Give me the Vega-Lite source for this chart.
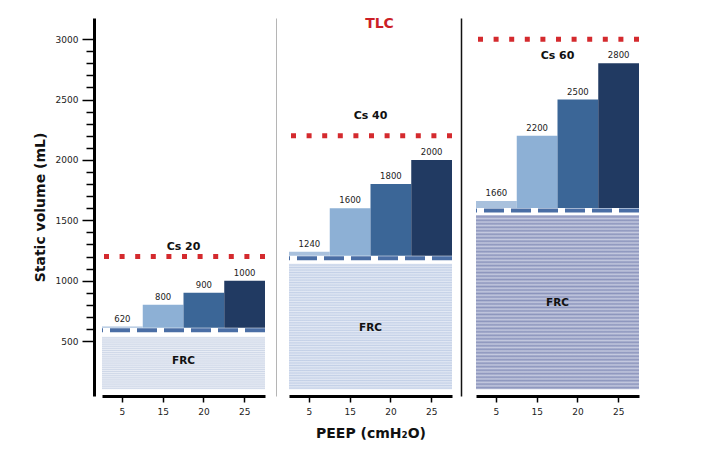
{
  "$schema": "https://vega.github.io/schema/vega-lite/v6.json",
  "background": "white",
  "padding": {"left": 33, "top": 17, "right": 10, "bottom": 5},
  "bounds": "flush",
  "spacing": 24,
  "datasets": {
    "bars": [
      {"panel": "p1", "peep": 5, "value": 620, "base": 590},
      {"panel": "p1", "peep": 15, "value": 800, "base": 590},
      {"panel": "p1", "peep": 20, "value": 900, "base": 590},
      {"panel": "p1", "peep": 25, "value": 1000, "base": 590},
      {"panel": "p2", "peep": 5, "value": 1240, "base": 1185},
      {"panel": "p2", "peep": 15, "value": 1600, "base": 1185},
      {"panel": "p2", "peep": 20, "value": 1800, "base": 1185},
      {"panel": "p2", "peep": 25, "value": 2000, "base": 1185},
      {"panel": "p3", "peep": 5, "value": 1660, "base": 1580},
      {"panel": "p3", "peep": 15, "value": 2200, "base": 1580},
      {"panel": "p3", "peep": 20, "value": 2500, "base": 1580},
      {"panel": "p3", "peep": 25, "value": 2800, "base": 1580}
    ],
    "panels": [
      {"panel": "p1", "cs": "Cs 20", "cs_y": 1278, "frc": 590, "frc_low": 100, "frc_top": 535, "frc_mid": 334, "tlc": 1200},
      {"panel": "p2", "cs": "Cs 40", "cs_y": 2362, "frc": 1185, "frc_low": 100, "frc_top": 1140, "frc_mid": 608, "tlc": 2200, "tlc_label": "TLC", "tlc_label_y": 3124},
      {"panel": "p3", "cs": "Cs 60", "cs_y": 2860, "frc": 1580, "frc_low": 100, "frc_top": 1543, "frc_mid": 815, "tlc": 3000}
    ]
  },
  "config": {
    "view": {"stroke": null},
    "font": "DejaVu Sans",
    "axis": {"domainColor": "#000000", "tickColor": "#000000", "labelColor": "#222222", "labelFont": "DejaVu Sans", "titleFont": "DejaVu Sans", "grid": false}
  },
  "hconcat": [
    {
      "width": 163, "height": 378,
      "layer": [
        {
          "data": {"name": "panels"},
          "transform": [{"filter": "datum.panel == 'p1'"}],
          "mark": {"type": "rect", "fill": {"gradient": "linear", "x1": 0, "y1": 0, "x2": 0, "y2": 1, "stops": [
            {"offset":0,"color":"#e9edf5"},{"offset":0.02,"color":"#cfd8e8"},{"offset":0.04,"color":"#e9edf5"},{"offset":0.06,"color":"#cfd8e8"},{"offset":0.08,"color":"#e9edf5"},
            {"offset":0.1,"color":"#cfd8e8"},{"offset":0.12,"color":"#e9edf5"},{"offset":0.14,"color":"#cfd8e8"},{"offset":0.16,"color":"#e9edf5"},{"offset":0.18,"color":"#cfd8e8"},
            {"offset":0.2,"color":"#e9edf5"},{"offset":0.22,"color":"#cfd8e8"},{"offset":0.24,"color":"#e9edf5"},{"offset":0.26,"color":"#cfd8e8"},{"offset":0.28,"color":"#e9edf5"},
            {"offset":0.3,"color":"#cfd8e8"},{"offset":0.32,"color":"#e9edf5"},{"offset":0.34,"color":"#cfd8e8"},{"offset":0.36,"color":"#e9edf5"},{"offset":0.38,"color":"#cfd8e8"},
            {"offset":0.4,"color":"#e9edf5"},{"offset":0.42,"color":"#cfd8e8"},{"offset":0.44,"color":"#e9edf5"},{"offset":0.46,"color":"#cfd8e8"},{"offset":0.48,"color":"#e9edf5"},
            {"offset":0.5,"color":"#cfd8e8"},{"offset":0.52,"color":"#e9edf5"},{"offset":0.54,"color":"#cfd8e8"},{"offset":0.56,"color":"#e9edf5"},{"offset":0.58,"color":"#cfd8e8"},
            {"offset":0.6,"color":"#e9edf5"},{"offset":0.62,"color":"#cfd8e8"},{"offset":0.64,"color":"#e9edf5"},{"offset":0.66,"color":"#cfd8e8"},{"offset":0.68,"color":"#e9edf5"},
            {"offset":0.7,"color":"#cfd8e8"},{"offset":0.72,"color":"#e9edf5"},{"offset":0.74,"color":"#cfd8e8"},{"offset":0.76,"color":"#e9edf5"},{"offset":0.78,"color":"#cfd8e8"},
            {"offset":0.8,"color":"#e9edf5"},{"offset":0.82,"color":"#cfd8e8"},{"offset":0.84,"color":"#e9edf5"},{"offset":0.86,"color":"#cfd8e8"},{"offset":0.88,"color":"#e9edf5"},
            {"offset":0.9,"color":"#cfd8e8"},{"offset":0.92,"color":"#e9edf5"},{"offset":0.94,"color":"#cfd8e8"},{"offset":0.96,"color":"#e9edf5"},{"offset":0.98,"color":"#cfd8e8"},
            {"offset":1,"color":"#e9edf5"}]}},
          "encoding": {
            "y": {"field": "frc_low", "type": "quantitative", "scale": {"domain": [45, 3175], "nice": false, "zero": false},
              "axis": {"title": "Static volume (mL)", "titleFontSize": 14, "titleFontWeight": "bold", "titleColor": "#111111", "titlePadding": 8,
                "values": [500,600,700,800,900,1000,1100,1200,1300,1400,1500,1600,1700,1800,1900,2000,2100,2200,2300,2400,2500,2600,2700,2800,2900,3000],
                "tickCount": 100,
                "format": "d", "labelExpr": "datum.value % 500 == 0 ? datum.label : ''", "labelFontSize": 9, "labelPadding": 4,
                "labelOverlap": false, "labelBound": false,
                "tickSize": {"condition": {"test": "datum.value % 500 == 0", "value": 12}, "value": 8},
                "tickWidth": 1.5, "domainWidth": 3, "offset": 8}},
            "y2": {"field": "frc_top"}
          }
        },
        {
          "data": {"name": "panels"},
          "transform": [{"filter": "datum.panel == 'p1'"}],
          "mark": {"type": "text", "fontWeight": "bold", "fontSize": 10.5, "color": "#111111"},
          "encoding": {"y": {"field": "frc_mid", "type": "quantitative"}, "text": {"value": "FRC"}}
        },
        {
          "data": {"name": "bars"},
          "transform": [{"filter": "datum.panel == 'p1'"}],
          "mark": {"type": "bar"},
          "encoding": {
            "x": {"field": "peep", "type": "ordinal", "scale": {"paddingInner": 0, "paddingOuter": 0},
              "axis": {"title": null, "labelAngle": 0, "labelFontSize": 9, "tickSize": 6, "tickWidth": 1.5, "domainWidth": 3, "labelPadding": 5}},
            "y": {"field": "value", "type": "quantitative"},
            "y2": {"field": "base"},
            "color": {"field": "peep", "type": "ordinal", "scale": {"domain": [5, 15, 20, 25], "range": ["#a9c1dd", "#8db0d5", "#3b6697", "#213a62"]}, "legend": null}
          }
        },
        {
          "data": {"name": "panels"},
          "transform": [{"filter": "datum.panel == 'p1'"}],
          "mark": {"type": "rule", "color": "white", "strokeWidth": 5},
          "encoding": {"y": {"field": "frc", "type": "quantitative"}}
        },
        {
          "data": {"name": "panels"},
          "transform": [{"filter": "datum.panel == 'p1'"}],
          "mark": {"type": "rule", "color": "#4a6ea5", "strokeWidth": 4, "strokeDash": [20, 7]},
          "encoding": {"y": {"field": "frc", "type": "quantitative"}}
        },
        {
          "data": {"name": "panels"},
          "transform": [{"filter": "datum.panel == 'p1'"}],
          "mark": {"type": "rule", "color": "#d42a2e", "strokeWidth": 5, "strokeDash": [5, 10.6]},
          "encoding": {"y": {"field": "tlc", "type": "quantitative"}}
        },
        {
          "data": {"name": "bars"},
          "transform": [{"filter": "datum.panel == 'p1'"}],
          "mark": {"type": "text", "fontSize": 8.5, "color": "#222222", "dy": -8},
          "encoding": {"x": {"field": "peep", "type": "ordinal"}, "y": {"field": "value", "type": "quantitative"}, "text": {"field": "value", "type": "quantitative", "format": "d"}}
        },
        {
          "data": {"name": "panels"},
          "transform": [{"filter": "datum.panel == 'p1'"}],
          "mark": {"type": "text", "fontWeight": "bold", "fontSize": 11, "color": "#111111"},
          "encoding": {"y": {"field": "cs_y", "type": "quantitative"}, "text": {"field": "cs"}}
        }
      ]
    },
    {
      "width": 163, "height": 378,
      "layer": [
        {
          "data": {"name": "panels"},
          "transform": [{"filter": "datum.panel == 'p2'"}],
          "mark": {"type": "rect", "fill": {"gradient": "linear", "x1": 0, "y1": 0, "x2": 0, "y2": 1, "stops": [
            {"offset":0,"color":"#e3e9f4"},{"offset":0.01,"color":"#c3d0e7"},{"offset":0.02,"color":"#e3e9f4"},{"offset":0.03,"color":"#c3d0e7"},{"offset":0.04,"color":"#e3e9f4"},
            {"offset":0.05,"color":"#c3d0e7"},{"offset":0.06,"color":"#e3e9f4"},{"offset":0.07,"color":"#c3d0e7"},{"offset":0.08,"color":"#e3e9f4"},{"offset":0.09,"color":"#c3d0e7"},
            {"offset":0.1,"color":"#e3e9f4"},{"offset":0.11,"color":"#c3d0e7"},{"offset":0.12,"color":"#e3e9f4"},{"offset":0.13,"color":"#c3d0e7"},{"offset":0.14,"color":"#e3e9f4"},
            {"offset":0.15,"color":"#c3d0e7"},{"offset":0.16,"color":"#e3e9f4"},{"offset":0.17,"color":"#c3d0e7"},{"offset":0.18,"color":"#e3e9f4"},{"offset":0.19,"color":"#c3d0e7"},
            {"offset":0.2,"color":"#e3e9f4"},{"offset":0.21,"color":"#c3d0e7"},{"offset":0.22,"color":"#e3e9f4"},{"offset":0.23,"color":"#c3d0e7"},{"offset":0.24,"color":"#e3e9f4"},
            {"offset":0.25,"color":"#c3d0e7"},{"offset":0.26,"color":"#e3e9f4"},{"offset":0.27,"color":"#c3d0e7"},{"offset":0.28,"color":"#e3e9f4"},{"offset":0.29,"color":"#c3d0e7"},
            {"offset":0.3,"color":"#e3e9f4"},{"offset":0.31,"color":"#c3d0e7"},{"offset":0.32,"color":"#e3e9f4"},{"offset":0.33,"color":"#c3d0e7"},{"offset":0.34,"color":"#e3e9f4"},
            {"offset":0.35,"color":"#c3d0e7"},{"offset":0.36,"color":"#e3e9f4"},{"offset":0.37,"color":"#c3d0e7"},{"offset":0.38,"color":"#e3e9f4"},{"offset":0.39,"color":"#c3d0e7"},
            {"offset":0.4,"color":"#e3e9f4"},{"offset":0.41,"color":"#c3d0e7"},{"offset":0.42,"color":"#e3e9f4"},{"offset":0.43,"color":"#c3d0e7"},{"offset":0.44,"color":"#e3e9f4"},
            {"offset":0.45,"color":"#c3d0e7"},{"offset":0.46,"color":"#e3e9f4"},{"offset":0.47,"color":"#c3d0e7"},{"offset":0.48,"color":"#e3e9f4"},{"offset":0.49,"color":"#c3d0e7"},
            {"offset":0.5,"color":"#e3e9f4"},{"offset":0.51,"color":"#c3d0e7"},{"offset":0.52,"color":"#e3e9f4"},{"offset":0.53,"color":"#c3d0e7"},{"offset":0.54,"color":"#e3e9f4"},
            {"offset":0.55,"color":"#c3d0e7"},{"offset":0.56,"color":"#e3e9f4"},{"offset":0.57,"color":"#c3d0e7"},{"offset":0.58,"color":"#e3e9f4"},{"offset":0.59,"color":"#c3d0e7"},
            {"offset":0.6,"color":"#e3e9f4"},{"offset":0.61,"color":"#c3d0e7"},{"offset":0.62,"color":"#e3e9f4"},{"offset":0.63,"color":"#c3d0e7"},{"offset":0.64,"color":"#e3e9f4"},
            {"offset":0.65,"color":"#c3d0e7"},{"offset":0.66,"color":"#e3e9f4"},{"offset":0.67,"color":"#c3d0e7"},{"offset":0.68,"color":"#e3e9f4"},{"offset":0.69,"color":"#c3d0e7"},
            {"offset":0.7,"color":"#e3e9f4"},{"offset":0.71,"color":"#c3d0e7"},{"offset":0.72,"color":"#e3e9f4"},{"offset":0.73,"color":"#c3d0e7"},{"offset":0.74,"color":"#e3e9f4"},
            {"offset":0.75,"color":"#c3d0e7"},{"offset":0.76,"color":"#e3e9f4"},{"offset":0.77,"color":"#c3d0e7"},{"offset":0.78,"color":"#e3e9f4"},{"offset":0.79,"color":"#c3d0e7"},
            {"offset":0.8,"color":"#e3e9f4"},{"offset":0.81,"color":"#c3d0e7"},{"offset":0.82,"color":"#e3e9f4"},{"offset":0.83,"color":"#c3d0e7"},{"offset":0.84,"color":"#e3e9f4"},
            {"offset":0.85,"color":"#c3d0e7"},{"offset":0.86,"color":"#e3e9f4"},{"offset":0.87,"color":"#c3d0e7"},{"offset":0.88,"color":"#e3e9f4"},{"offset":0.89,"color":"#c3d0e7"},
            {"offset":0.9,"color":"#e3e9f4"},{"offset":0.91,"color":"#c3d0e7"},{"offset":0.92,"color":"#e3e9f4"},{"offset":0.93,"color":"#c3d0e7"},{"offset":0.94,"color":"#e3e9f4"},
            {"offset":0.95,"color":"#c3d0e7"},{"offset":0.96,"color":"#e3e9f4"},{"offset":0.97,"color":"#c3d0e7"},{"offset":0.98,"color":"#e3e9f4"},{"offset":0.99,"color":"#c3d0e7"},
            {"offset":1,"color":"#e3e9f4"}]}},
          "encoding": {
            "y": {"field": "frc_low", "type": "quantitative", "scale": {"domain": [45, 3175], "nice": false, "zero": false},
              "axis": {"title": null, "labels": false, "ticks": false, "domainColor": "#b5b5b5", "domainWidth": 1, "offset": 13}},
            "y2": {"field": "frc_top"}
          }
        },
        {
          "data": {"name": "panels"},
          "transform": [{"filter": "datum.panel == 'p2'"}],
          "mark": {"type": "text", "fontWeight": "bold", "fontSize": 10.5, "color": "#111111"},
          "encoding": {"y": {"field": "frc_mid", "type": "quantitative"}, "text": {"value": "FRC"}}
        },
        {
          "data": {"name": "bars"},
          "transform": [{"filter": "datum.panel == 'p2'"}],
          "mark": {"type": "bar"},
          "encoding": {
            "x": {"field": "peep", "type": "ordinal", "scale": {"paddingInner": 0, "paddingOuter": 0},
              "axis": {"title": "PEEP (cmH₂O)", "titleFontSize": 14, "titleFontWeight": "bold", "titleColor": "#111111", "titlePadding": 10, "labelAngle": 0, "labelFontSize": 9, "tickSize": 6, "tickWidth": 1.5, "domainWidth": 3, "labelPadding": 5}},
            "y": {"field": "value", "type": "quantitative"},
            "y2": {"field": "base"},
            "color": {"field": "peep", "type": "ordinal", "scale": {"domain": [5, 15, 20, 25], "range": ["#a9c1dd", "#8db0d5", "#3b6697", "#213a62"]}, "legend": null}
          }
        },
        {
          "data": {"name": "panels"},
          "transform": [{"filter": "datum.panel == 'p2'"}],
          "mark": {"type": "rule", "color": "white", "strokeWidth": 5},
          "encoding": {"y": {"field": "frc", "type": "quantitative"}}
        },
        {
          "data": {"name": "panels"},
          "transform": [{"filter": "datum.panel == 'p2'"}],
          "mark": {"type": "rule", "color": "#4a6ea5", "strokeWidth": 4, "strokeDash": [20, 7]},
          "encoding": {"y": {"field": "frc", "type": "quantitative"}}
        },
        {
          "data": {"name": "panels"},
          "transform": [{"filter": "datum.panel == 'p2'"}],
          "mark": {"type": "rule", "color": "#d42a2e", "strokeWidth": 5, "strokeDash": [5, 10.6]},
          "encoding": {"y": {"field": "tlc", "type": "quantitative"}}
        },
        {
          "data": {"name": "bars"},
          "transform": [{"filter": "datum.panel == 'p2'"}],
          "mark": {"type": "text", "fontSize": 8.5, "color": "#222222", "dy": -8},
          "encoding": {"x": {"field": "peep", "type": "ordinal"}, "y": {"field": "value", "type": "quantitative"}, "text": {"field": "value", "type": "quantitative", "format": "d"}}
        },
        {
          "data": {"name": "panels"},
          "transform": [{"filter": "datum.panel == 'p2'"}],
          "mark": {"type": "text", "fontWeight": "bold", "fontSize": 11, "color": "#111111"},
          "encoding": {"y": {"field": "cs_y", "type": "quantitative"}, "text": {"field": "cs"}}
        },
        {
          "data": {"name": "panels"},
          "transform": [{"filter": "datum.panel == 'p2'"}],
          "mark": {"type": "text", "fontWeight": "bold", "fontSize": 14, "color": "#cc1f27", "dx": 9},
          "encoding": {"y": {"field": "tlc_label_y", "type": "quantitative"}, "text": {"field": "tlc_label"}}
        }
      ]
    },
    {
      "width": 163, "height": 378,
      "layer": [
        {
          "data": {"name": "panels"},
          "transform": [{"filter": "datum.panel == 'p3'"}],
          "mark": {"type": "rect", "fill": {"gradient": "linear", "x1": 0, "y1": 0, "x2": 0, "y2": 1, "stops": [
            {"offset":0,"color":"#c4c9df"},{"offset":0.01,"color":"#8b94bc"},{"offset":0.02,"color":"#c4c9df"},{"offset":0.03,"color":"#8b94bc"},{"offset":0.04,"color":"#c4c9df"},
            {"offset":0.05,"color":"#8b94bc"},{"offset":0.06,"color":"#c4c9df"},{"offset":0.07,"color":"#8b94bc"},{"offset":0.08,"color":"#c4c9df"},{"offset":0.09,"color":"#8b94bc"},
            {"offset":0.1,"color":"#c4c9df"},{"offset":0.11,"color":"#8b94bc"},{"offset":0.12,"color":"#c4c9df"},{"offset":0.13,"color":"#8b94bc"},{"offset":0.14,"color":"#c4c9df"},
            {"offset":0.15,"color":"#8b94bc"},{"offset":0.16,"color":"#c4c9df"},{"offset":0.17,"color":"#8b94bc"},{"offset":0.18,"color":"#c4c9df"},{"offset":0.19,"color":"#8b94bc"},
            {"offset":0.2,"color":"#c4c9df"},{"offset":0.21,"color":"#8b94bc"},{"offset":0.22,"color":"#c4c9df"},{"offset":0.23,"color":"#8b94bc"},{"offset":0.24,"color":"#c4c9df"},
            {"offset":0.25,"color":"#8b94bc"},{"offset":0.26,"color":"#c4c9df"},{"offset":0.27,"color":"#8b94bc"},{"offset":0.28,"color":"#c4c9df"},{"offset":0.29,"color":"#8b94bc"},
            {"offset":0.3,"color":"#c4c9df"},{"offset":0.31,"color":"#8b94bc"},{"offset":0.32,"color":"#c4c9df"},{"offset":0.33,"color":"#8b94bc"},{"offset":0.34,"color":"#c4c9df"},
            {"offset":0.35,"color":"#8b94bc"},{"offset":0.36,"color":"#c4c9df"},{"offset":0.37,"color":"#8b94bc"},{"offset":0.38,"color":"#c4c9df"},{"offset":0.39,"color":"#8b94bc"},
            {"offset":0.4,"color":"#c4c9df"},{"offset":0.41,"color":"#8b94bc"},{"offset":0.42,"color":"#c4c9df"},{"offset":0.43,"color":"#8b94bc"},{"offset":0.44,"color":"#c4c9df"},
            {"offset":0.45,"color":"#8b94bc"},{"offset":0.46,"color":"#c4c9df"},{"offset":0.47,"color":"#8b94bc"},{"offset":0.48,"color":"#c4c9df"},{"offset":0.49,"color":"#8b94bc"},
            {"offset":0.5,"color":"#c4c9df"},{"offset":0.51,"color":"#8b94bc"},{"offset":0.52,"color":"#c4c9df"},{"offset":0.53,"color":"#8b94bc"},{"offset":0.54,"color":"#c4c9df"},
            {"offset":0.55,"color":"#8b94bc"},{"offset":0.56,"color":"#c4c9df"},{"offset":0.57,"color":"#8b94bc"},{"offset":0.58,"color":"#c4c9df"},{"offset":0.59,"color":"#8b94bc"},
            {"offset":0.6,"color":"#c4c9df"},{"offset":0.61,"color":"#8b94bc"},{"offset":0.62,"color":"#c4c9df"},{"offset":0.63,"color":"#8b94bc"},{"offset":0.64,"color":"#c4c9df"},
            {"offset":0.65,"color":"#8b94bc"},{"offset":0.66,"color":"#c4c9df"},{"offset":0.67,"color":"#8b94bc"},{"offset":0.68,"color":"#c4c9df"},{"offset":0.69,"color":"#8b94bc"},
            {"offset":0.7,"color":"#c4c9df"},{"offset":0.71,"color":"#8b94bc"},{"offset":0.72,"color":"#c4c9df"},{"offset":0.73,"color":"#8b94bc"},{"offset":0.74,"color":"#c4c9df"},
            {"offset":0.75,"color":"#8b94bc"},{"offset":0.76,"color":"#c4c9df"},{"offset":0.77,"color":"#8b94bc"},{"offset":0.78,"color":"#c4c9df"},{"offset":0.79,"color":"#8b94bc"},
            {"offset":0.8,"color":"#c4c9df"},{"offset":0.81,"color":"#8b94bc"},{"offset":0.82,"color":"#c4c9df"},{"offset":0.83,"color":"#8b94bc"},{"offset":0.84,"color":"#c4c9df"},
            {"offset":0.85,"color":"#8b94bc"},{"offset":0.86,"color":"#c4c9df"},{"offset":0.87,"color":"#8b94bc"},{"offset":0.88,"color":"#c4c9df"},{"offset":0.89,"color":"#8b94bc"},
            {"offset":0.9,"color":"#c4c9df"},{"offset":0.91,"color":"#8b94bc"},{"offset":0.92,"color":"#c4c9df"},{"offset":0.93,"color":"#8b94bc"},{"offset":0.94,"color":"#c4c9df"},
            {"offset":0.95,"color":"#8b94bc"},{"offset":0.96,"color":"#c4c9df"},{"offset":0.97,"color":"#8b94bc"},{"offset":0.98,"color":"#c4c9df"},{"offset":0.99,"color":"#8b94bc"},
            {"offset":1,"color":"#c4c9df"}]}},
          "encoding": {
            "y": {"field": "frc_low", "type": "quantitative", "scale": {"domain": [45, 3175], "nice": false, "zero": false},
              "axis": {"title": null, "labels": false, "ticks": false, "domainColor": "#111111", "domainWidth": 1.5, "offset": 15}},
            "y2": {"field": "frc_top"}
          }
        },
        {
          "data": {"name": "panels"},
          "transform": [{"filter": "datum.panel == 'p3'"}],
          "mark": {"type": "text", "fontWeight": "bold", "fontSize": 10.5, "color": "#111111"},
          "encoding": {"y": {"field": "frc_mid", "type": "quantitative"}, "text": {"value": "FRC"}}
        },
        {
          "data": {"name": "bars"},
          "transform": [{"filter": "datum.panel == 'p3'"}],
          "mark": {"type": "bar"},
          "encoding": {
            "x": {"field": "peep", "type": "ordinal", "scale": {"paddingInner": 0, "paddingOuter": 0},
              "axis": {"title": null, "labelAngle": 0, "labelFontSize": 9, "tickSize": 6, "tickWidth": 1.5, "domainWidth": 3, "labelPadding": 5}},
            "y": {"field": "value", "type": "quantitative"},
            "y2": {"field": "base"},
            "color": {"field": "peep", "type": "ordinal", "scale": {"domain": [5, 15, 20, 25], "range": ["#a9c1dd", "#8db0d5", "#3b6697", "#213a62"]}, "legend": null}
          }
        },
        {
          "data": {"name": "panels"},
          "transform": [{"filter": "datum.panel == 'p3'"}],
          "mark": {"type": "rule", "color": "white", "strokeWidth": 5},
          "encoding": {"y": {"field": "frc", "type": "quantitative"}}
        },
        {
          "data": {"name": "panels"},
          "transform": [{"filter": "datum.panel == 'p3'"}],
          "mark": {"type": "rule", "color": "#4a6ea5", "strokeWidth": 4, "strokeDash": [20, 7]},
          "encoding": {"y": {"field": "frc", "type": "quantitative"}}
        },
        {
          "data": {"name": "panels"},
          "transform": [{"filter": "datum.panel == 'p3'"}],
          "mark": {"type": "rule", "color": "#d42a2e", "strokeWidth": 5, "strokeDash": [5, 10.6]},
          "encoding": {"y": {"field": "tlc", "type": "quantitative"}}
        },
        {
          "data": {"name": "bars"},
          "transform": [{"filter": "datum.panel == 'p3'"}],
          "mark": {"type": "text", "fontSize": 8.5, "color": "#222222", "dy": -8},
          "encoding": {"x": {"field": "peep", "type": "ordinal"}, "y": {"field": "value", "type": "quantitative"}, "text": {"field": "value", "type": "quantitative", "format": "d"}}
        },
        {
          "data": {"name": "panels"},
          "transform": [{"filter": "datum.panel == 'p3'"}],
          "mark": {"type": "text", "fontWeight": "bold", "fontSize": 11, "color": "#111111"},
          "encoding": {"y": {"field": "cs_y", "type": "quantitative"}, "text": {"field": "cs"}}
        }
      ]
    }
  ]
}
